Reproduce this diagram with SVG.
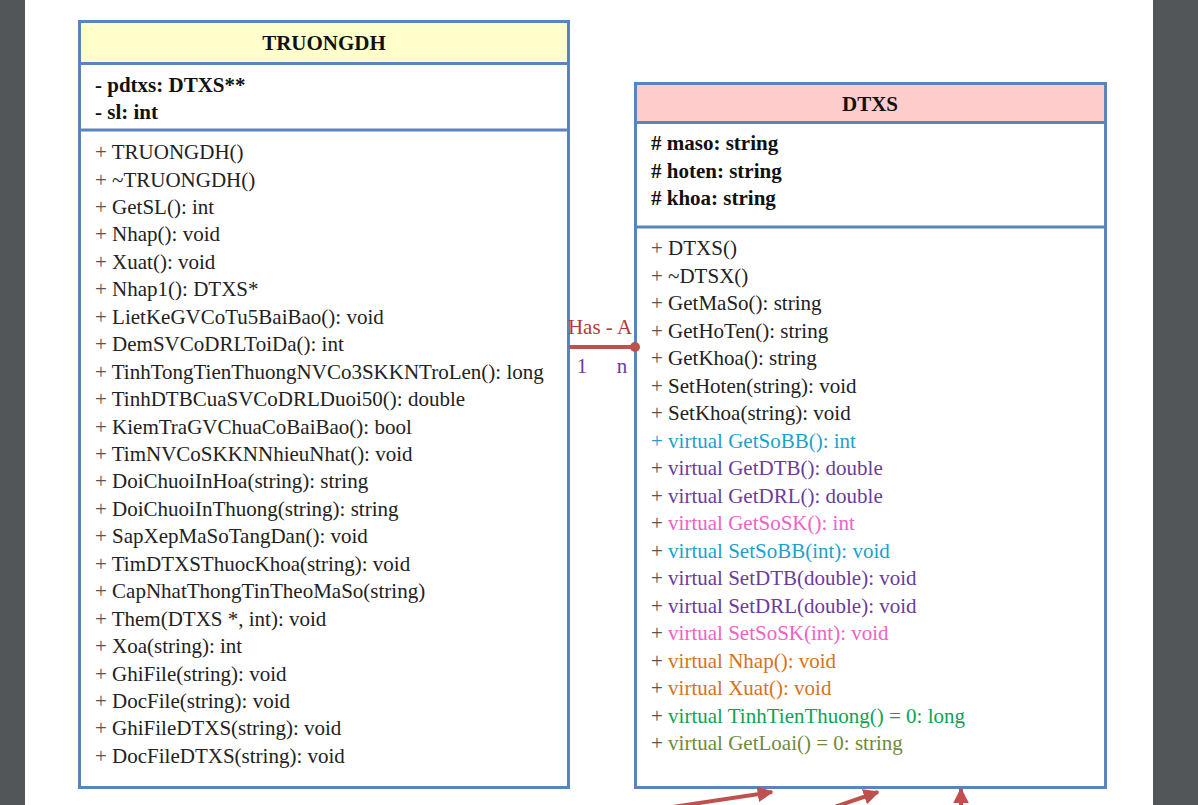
<svg xmlns="http://www.w3.org/2000/svg" width="1198" height="805" viewBox="0 0 1198 805">
<defs>
<style>
.box{fill:#ffffff;stroke:#5a84be;stroke-width:3}
.t{font-family:"Liberation Serif","Times New Roman",serif;font-size:21px;fill:#222222}
.b{font-family:"Liberation Serif","Times New Roman",serif;font-size:21px;font-weight:bold;fill:#111111}
.h{font-family:"Liberation Serif","Times New Roman",serif;font-size:21px;font-weight:bold;fill:#111111;text-anchor:middle}
.lab{font-family:"Liberation Serif","Times New Roman",serif;font-size:21px;text-anchor:middle}
.p{fill:#555555}
.cy{fill:#1f9fcc}
.pu{fill:#6a3c9c}
.pk{fill:#f062c4}
.or{fill:#d8721a}
.gr{fill:#0fa253}
.ol{fill:#6f8a3a}
.rel{stroke:#c0504d;stroke-width:4;fill:none}
</style>
<marker id="ah" viewBox="0 0 10 10" refX="9" refY="5" markerWidth="4" markerHeight="4" orient="auto" markerUnits="strokeWidth">
<path d="M0,0 L10,5 L0,10 z" fill="#c0504d"/>
</marker>
</defs>
<rect x="0" y="0" width="1198" height="805" fill="#525659"/>
<rect x="25" y="0" width="1128" height="805" fill="#ffffff"/>

<g id="TRUONGDH">
<rect class="box" x="79.5" y="21.5" width="489" height="766"/>
<rect x="81" y="23" width="486" height="40" fill="#ffffcc"/>
<line x1="79.5" y1="63.5" x2="568.5" y2="63.5" stroke="#5a84be" stroke-width="3"/>
<line x1="79.5" y1="130" x2="568.5" y2="130" stroke="#5a84be" stroke-width="3"/>
<text class="h" x="324" y="50">TRUONGDH</text>
<text class="b" x="95" y="92">- pdtxs: DTXS**</text>
<text class="b" x="95" y="119">- sl: int</text>
<text class="t" x="95" y="159"><tspan class="p">+ </tspan>TRUONGDH()</text>
<text class="t" x="95" y="186.5"><tspan class="p">+ </tspan>~TRUONGDH()</text>
<text class="t" x="95" y="214"><tspan class="p">+ </tspan>GetSL(): int</text>
<text class="t" x="95" y="241.4"><tspan class="p">+ </tspan>Nhap(): void</text>
<text class="t" x="95" y="268.8"><tspan class="p">+ </tspan>Xuat(): void</text>
<text class="t" x="95" y="296.3"><tspan class="p">+ </tspan>Nhap1(): DTXS*</text>
<text class="t" x="95" y="323.7"><tspan class="p">+ </tspan>LietKeGVCoTu5BaiBao(): void</text>
<text class="t" x="95" y="351.2"><tspan class="p">+ </tspan>DemSVCoDRLToiDa(): int</text>
<text class="t" x="95" y="378.6"><tspan class="p">+ </tspan>TinhTongTienThuongNVCo3SKKNTroLen(): long</text>
<text class="t" x="95" y="406"><tspan class="p">+ </tspan>TinhDTBCuaSVCoDRLDuoi50(): double</text>
<text class="t" x="95" y="433.5"><tspan class="p">+ </tspan>KiemTraGVChuaCoBaiBao(): bool</text>
<text class="t" x="95" y="460.9"><tspan class="p">+ </tspan>TimNVCoSKKNNhieuNhat(): void</text>
<text class="t" x="95" y="488.4"><tspan class="p">+ </tspan>DoiChuoiInHoa(string): string</text>
<text class="t" x="95" y="515.8"><tspan class="p">+ </tspan>DoiChuoiInThuong(string): string</text>
<text class="t" x="95" y="543.3"><tspan class="p">+ </tspan>SapXepMaSoTangDan(): void</text>
<text class="t" x="95" y="570.7"><tspan class="p">+ </tspan>TimDTXSThuocKhoa(string): void</text>
<text class="t" x="95" y="598.1"><tspan class="p">+ </tspan>CapNhatThongTinTheoMaSo(string)</text>
<text class="t" x="95" y="625.6"><tspan class="p">+ </tspan>Them(DTXS *, int): void</text>
<text class="t" x="95" y="653"><tspan class="p">+ </tspan>Xoa(string): int</text>
<text class="t" x="95" y="680.5"><tspan class="p">+ </tspan>GhiFile(string): void</text>
<text class="t" x="95" y="707.9"><tspan class="p">+ </tspan>DocFile(string): void</text>
<text class="t" x="95" y="735.4"><tspan class="p">+ </tspan>GhiFileDTXS(string): void</text>
<text class="t" x="95" y="762.8"><tspan class="p">+ </tspan>DocFileDTXS(string): void</text>
</g>

<g id="DTXS">
<rect class="box" x="635.5" y="83.5" width="470" height="704"/>
<rect x="637" y="85" width="467" height="37" fill="#ffcccc"/>
<line x1="635.5" y1="122.5" x2="1105.5" y2="122.5" stroke="#5a84be" stroke-width="3"/>
<line x1="635.5" y1="227" x2="1105.5" y2="227" stroke="#5a84be" stroke-width="3"/>
<text class="h" x="870" y="111">DTXS</text>
<text class="b" x="651" y="150"># maso: string</text>
<text class="b" x="651" y="178"># hoten: string</text>
<text class="b" x="651" y="205"># khoa: string</text>
<text class="t" x="651" y="255"><tspan class="p">+ </tspan>DTXS()</text>
<text class="t" x="651" y="282.5"><tspan class="p">+ </tspan>~DTSX()</text>
<text class="t" x="651" y="310"><tspan class="p">+ </tspan>GetMaSo(): string</text>
<text class="t" x="651" y="337.5"><tspan class="p">+ </tspan>GetHoTen(): string</text>
<text class="t" x="651" y="365"><tspan class="p">+ </tspan>GetKhoa(): string</text>
<text class="t" x="651" y="392.5"><tspan class="p">+ </tspan>SetHoten(string): void</text>
<text class="t" x="651" y="420"><tspan class="p">+ </tspan>SetKhoa(string): void</text>
<text class="t cy" x="651" y="447.5">+ virtual GetSoBB(): int</text>
<text class="t" x="651" y="475"><tspan class="p">+ </tspan><tspan class="pu">virtual GetDTB(): double</tspan></text>
<text class="t" x="651" y="502.5"><tspan class="p">+ </tspan><tspan class="pu">virtual GetDRL(): double</tspan></text>
<text class="t" x="651" y="530"><tspan class="p">+ </tspan><tspan class="pk">virtual GetSoSK(): int</tspan></text>
<text class="t" x="651" y="557.5"><tspan class="p">+ </tspan><tspan class="cy">virtual SetSoBB(int): void</tspan></text>
<text class="t" x="651" y="585"><tspan class="p">+ </tspan><tspan class="pu">virtual SetDTB(double): void</tspan></text>
<text class="t" x="651" y="612.5"><tspan class="p">+ </tspan><tspan class="pu">virtual SetDRL(double): void</tspan></text>
<text class="t" x="651" y="640"><tspan class="p">+ </tspan><tspan class="pk">virtual SetSoSK(int): void</tspan></text>
<text class="t" x="651" y="667.5"><tspan class="p">+ </tspan><tspan class="or">virtual Nhap(): void</tspan></text>
<text class="t" x="651" y="695"><tspan class="p">+ </tspan><tspan class="or">virtual Xuat(): void</tspan></text>
<text class="t" x="651" y="722.5"><tspan class="p">+ </tspan><tspan class="gr">virtual TinhTienThuong() = 0: long</tspan></text>
<text class="t" x="651" y="750"><tspan class="p">+ </tspan><tspan class="ol">virtual GetLoai() = 0: string</tspan></text>
</g>

<g id="connectors">
<line class="rel" x1="569" y1="347" x2="635" y2="347"/>
<circle cx="635" cy="347" r="5" fill="#c0504d"/>
<text class="lab" x="600" y="334" fill="#b5383a">Has - A</text>
<text class="lab" x="582" y="373" fill="#6a3c9c">1</text>
<text class="lab" x="622" y="373" fill="#6a3c9c">n</text>
<line class="rel" x1="666" y1="808" x2="772" y2="792" marker-end="url(#ah)"/>
<line class="rel" x1="826" y1="810" x2="878" y2="792" marker-end="url(#ah)"/>
<line class="rel" x1="961" y1="812" x2="961" y2="789" marker-end="url(#ah)"/>
</g>
</svg>
